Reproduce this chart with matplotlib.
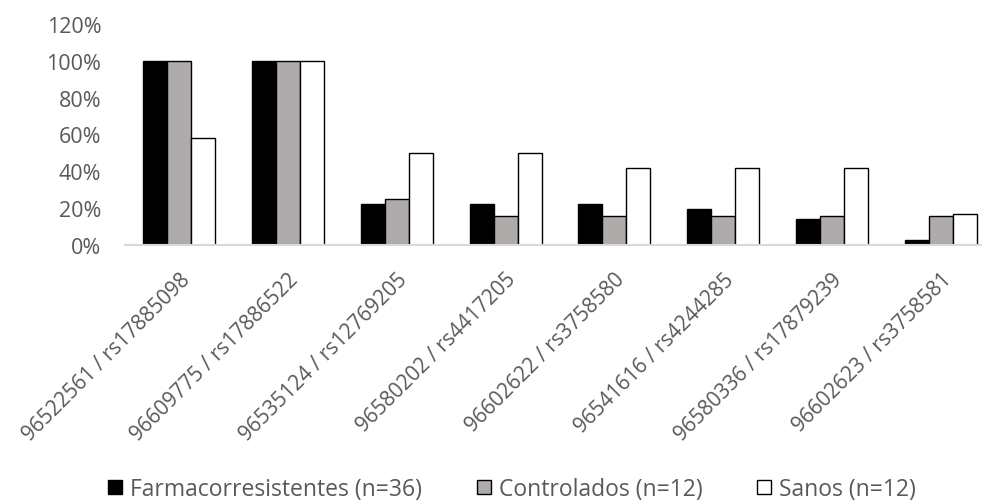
import matplotlib
matplotlib.use("Agg")
import matplotlib.pyplot as plt
import numpy as np
from matplotlib.patches import Patch

# SNP positions / rs identifiers on the x axis
markers = [
    "96522561 / rs17885098",
    "96609775 / rs17886522",
    "96535124 / rs12769205",
    "96580202 / rs4417205",
    "96602622 / rs3758580",
    "96541616 / rs4244285",
    "96580336 / rs17879239",
    "96602623 / rs3758581",
]

# frequency per group (fraction of patients)
farmaco = [1.00, 1.00, 0.22, 0.22, 0.22, 0.195, 0.14, 0.028]
controlados = [1.00, 1.00, 0.25, 0.16, 0.16, 0.16, 0.16, 0.16]
sanos = [0.58, 1.00, 0.50, 0.50, 0.42, 0.42, 0.42, 0.17]

series = [
    ("Farmacorresistentes (n=36)", farmaco, "#000000"),
    ("Controlados (n=12)", controlados, "#afabab"),
    ("Sanos (n=12)", sanos, "#ffffff"),
]

plt.rcParams["font.family"] = ["Open Sans", "DejaVu Sans"]
text_color = "#595959"

fig = plt.figure(figsize=(9.82, 5.02), dpi=100)
ax = fig.add_axes([125 / 982, 256 / 502, 870 / 982, 221 / 502])

x = np.arange(len(markers))
width = 0.22
for i, (label, values, color) in enumerate(series):
    ax.bar(x + (i - 1) * width, values, width, color=color,
           edgecolor="black", linewidth=1.0, label=label)

ax.set_xlim(-0.5, len(markers) - 0.5)
ax.set_ylim(0, 1.2)
ax.set_yticks(np.arange(0, 1.21, 0.2))
ax.set_yticklabels([f"{int(round(v * 100))}%" for v in np.arange(0, 1.21, 0.2)])

ax.set_xticks(x)
ax.set_xticklabels(markers, rotation=45, ha="right", va="top",
                   rotation_mode="anchor")

for side in ("top", "right", "left"):
    ax.spines[side].set_visible(False)
ax.spines["bottom"].set_color("#d9d9d9")
ax.spines["bottom"].set_linewidth(1.5)

ax.tick_params(axis="y", length=0, pad=17, labelsize=15.5, labelcolor=text_color)
ax.tick_params(axis="x", length=0, pad=17, labelsize=15, labelcolor=text_color)

handles = [Patch(facecolor=c, edgecolor="black", linewidth=1.0) for _, _, c in series]
fig.legend(handles, [s[0] for s in series], loc="center",
           bbox_to_anchor=(512 / 982, 1 - 490 / 502), ncol=3, frameon=False,
           fontsize=16.5, labelcolor=text_color, handlelength=0.6,
           handleheight=0.6, handletextpad=0.35, columnspacing=2.4)

fig.savefig("out.png", dpi=100)
